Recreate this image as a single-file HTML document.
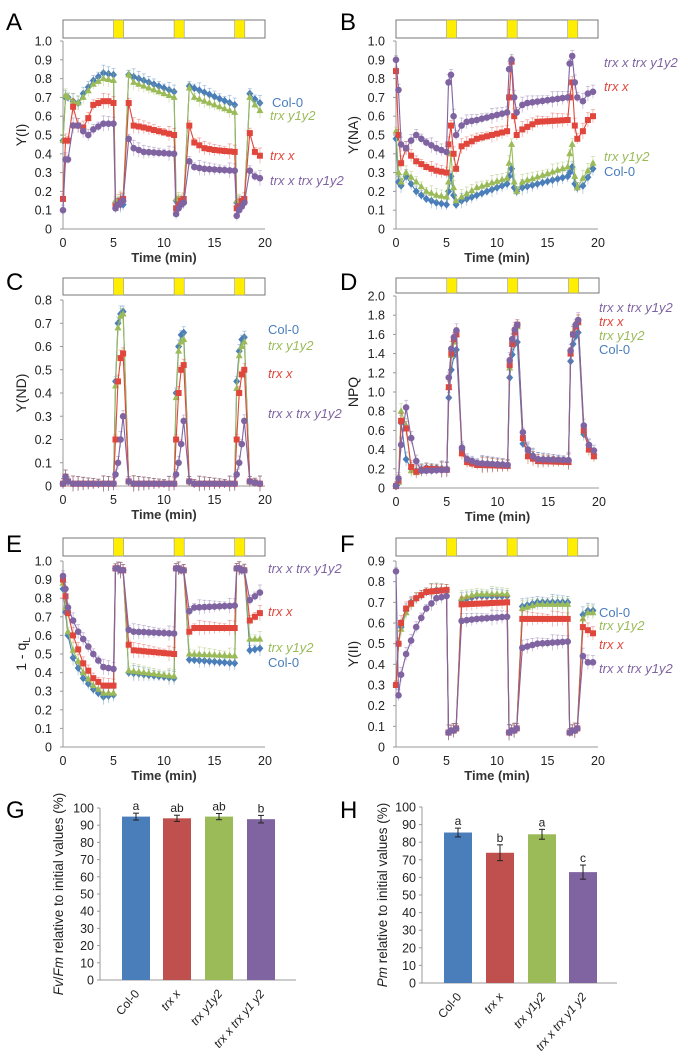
<!DOCTYPE html>
<html><head><meta charset="utf-8">
<style>
html,body{margin:0;padding:0;background:#fff;}
svg{display:block;font-family:"Liberation Sans",sans-serif;}
</style></head>
<body>
<svg id="s" width="688" height="1062" xmlns="http://www.w3.org/2000/svg"></svg>
<script>
var S=document.getElementById('s');var out='';
var COL={b:'#4a7ebb',g:'#9bbb59',r:'#e0463c',p:'#8064a2'};
var T=[0,.25,.5,1,1.5,2,2.5,3,3.5,4,4.5,5];
function hlT(t0){return [t0+.2,t0+.45,t0+.7,t0+.95];}
hlT(5).forEach(function(t){T.push(t)});
for(var t=6.5;t<=11.001;t+=.5)T.push(t);
hlT(11).forEach(function(t){T.push(t)});
for(var t=12.5;t<=17.001;t+=.5)T.push(t);
hlT(17).forEach(function(t){T.push(t)});
T.push(18.5,19,19.5);
function H(t0,a){return hlT(t0).map(function(t,i){return [t,a[i]]});}
function mk(init,h1,s2,h2,s3,h3,s4){return [].concat(init,H(5,h1),s2,H(11,h2),s3,H(17,h3),s4);}
function interp(an,t){for(var i=0;i<an.length-1;i++){if(t>=an[i][0]-1e-9&&t<=an[i+1][0]+1e-9){var a=an[i],b=an[i+1];if(b[0]==a[0])return a[1];return a[1]+(b[1]-a[1])*(t-a[0])/(b[0]-a[0]);}}return t<an[0][0]?an[0][1]:an[an.length-1][1];}
function marker(k,x,y){var c=COL[k];
 if(k=='b')return '<polygon points="'+x+','+(y-4)+' '+(x+3.5)+','+y+' '+x+','+(y+4)+' '+(x-3.5)+','+y+'" fill="'+c+'"/>';
 if(k=='r')return '<rect x="'+(x-3)+'" y="'+(y-3)+'" width="6" height="6" fill="'+c+'"/>';
 if(k=='g')return '<polygon points="'+x+','+(y-4)+' '+(x+3.5)+','+(y+2.5)+' '+(x-3.5)+','+(y+2.5)+'" fill="'+c+'"/>';
 return '<circle cx="'+x+'" cy="'+y+'" r="3.3" fill="'+c+'"/>';}
function panel(c){
 var X=function(t){return c.x0+(c.x1-c.x0)*t/20},Y=function(v){return c.yB-(c.yB-c.yT)*v/c.ymax};
 var o='';
 o+='<rect x="'+c.x0+'" y="'+c.b0+'" width="'+(c.x1-c.x0)+'" height="'+(c.b1-c.b0)+'" fill="#fff" stroke="#777" stroke-width="1"/>';
 [5,11,17].forEach(function(t){o+='<rect x="'+X(t)+'" y="'+c.b0+'" width="'+(X(t+1)-X(t))+'" height="'+(c.b1-c.b0)+'" fill="#ffee00" stroke="#999" stroke-width=".6"/>';});
 o+='<line x1="'+c.x0+'" y1="'+c.yT+'" x2="'+c.x0+'" y2="'+c.yB+'" stroke="#999"/>';
 o+='<line x1="'+c.x0+'" y1="'+c.yB+'" x2="'+c.x1+'" y2="'+c.yB+'" stroke="#999"/>';
 var n=Math.round(c.ymax/c.step);
 for(var i=0;i<=n;i++){var v=i*c.step,y=Y(v);o+='<text x="'+(c.x0-11)+'" y="'+(y+4.5)+'" font-size="12.5" text-anchor="end" fill="#222">'+(i==0?'0':v.toFixed(1))+'</text>';o+='<line x1="'+(c.x0-3)+'" y1="'+y+'" x2="'+c.x0+'" y2="'+y+'" stroke="#999"/>';}
 [0,5,10,15,20].forEach(function(t){o+='<text x="'+X(t)+'" y="'+(c.yB+18)+'" font-size="12.5" text-anchor="middle" fill="#222">'+t+'</text>';});
 o+='<text x="'+((c.x0+c.x1)/2)+'" y="'+(c.yB+33)+'" font-size="13" font-weight="bold" text-anchor="middle" fill="#333">Time (min)</text>';
 o+='<text transform="translate('+c.lx+','+((c.yT+c.yB)/2)+') rotate(-90)" font-size="14" text-anchor="middle" fill="#222">'+c.yl+'</text>';
 ['b','g','r','p'].forEach(function(k){var an=c.s[k];var pts=T.map(function(t){return [X(t),Y(interp(an,t))]});
  var eb='',m='';pts.forEach(function(p){var e=4+((p[0]*7)%4);eb+='<line x1="'+p[0]+'" y1="'+(p[1]-e)+'" x2="'+p[0]+'" y2="'+(p[1]+e)+'" stroke="'+COL[k]+'" stroke-opacity=".45" stroke-width=".8"/><line x1="'+(p[0]-2)+'" y1="'+(p[1]-e)+'" x2="'+(p[0]+2)+'" y2="'+(p[1]-e)+'" stroke="'+COL[k]+'" stroke-opacity=".45" stroke-width=".8"/>';m+=marker(k,p[0].toFixed(1)*1,p[1].toFixed(1)*1);});
  o+=eb+'<polyline fill="none" stroke="'+COL[k]+'" stroke-width="1.1" points="'+pts.map(function(p){return p[0].toFixed(1)+','+p[1].toFixed(1)}).join(' ')+'"/>'+m;});
 c.leg.forEach(function(l){var txt={b:'Col-0',g:'trx y1y2',r:'trx x',p:'trx x trx y1y2'}[l[0]];o+='<text x="'+l[1]+'" y="'+l[2]+'" font-size="13" fill="'+COL[l[0]]+'"'+(l[0]=='b'?'':' font-style="italic"')+'>'+txt+'</text>';});
 o+='<text x="'+c.L[1]+'" y="'+c.L[2]+'" font-size="24" fill="#000">'+c.L[0]+'</text>';
 return o;}
var hlE=[.96,.96,.95,.95],hlF=[.07,.08,.08,.09];
out+=panel({x0:63,x1:265,yB:229,yT:41,ymax:1,step:.1,b0:20,b1:38,lx:26,yl:'Y(I)',L:['A',6,30],
 s:{b:mk([[0,.47],[.25,.7],[.5,.7],[1,.68],[1.5,.67],[2,.72],[3,.79],[4,.83],[5,.82]],[.14,.13,.13,.13],[[6.5,.82],[11,.73]],[.15,.14,.14,.14],[[12.5,.76],[17,.66]],[.14,.14,.14,.14],[[18.5,.72],[19,.69],[19.5,.67]]),
 g:mk([[0,.47],[.25,.71],[.5,.7],[1,.68],[1.5,.67],[2,.7],[3,.77],[4,.8],[5,.79]],[.15,.15,.16,.16],[[6.5,.82],[7,.78],[11,.7]],[.16,.16,.16,.16],[[12.5,.75],[13,.7],[17,.62]],[.15,.15,.15,.16],[[18.5,.7],[19,.66],[19.5,.63]]),
 r:mk([[0,.16],[.25,.47],[.5,.47],[1,.65],[1.5,.55],[2,.54],[2.5,.59],[3,.66],[4,.68],[4.5,.68],[5,.67]],[.12,.13,.15,.16],[[6.5,.67],[7,.55],[8,.54],[11,.5]],[.11,.13,.15,.16],[[12.5,.55],[13,.46],[14,.43],[15,.42],[17,.41]],[.11,.12,.15,.16],[[18.5,.51],[19,.41],[19.5,.39]]),
 p:mk([[0,.1],[.25,.37],[.5,.37],[1,.55],[1.5,.55],[2,.52],[2.5,.5],[3,.53],[4,.56],[5,.56]],[.11,.13,.14,.15],[[6.5,.48],[7,.43],[8,.41],[11,.4]],[.08,.11,.13,.14],[[12.5,.36],[13,.33],[14,.32],[17,.31]],[.07,.1,.12,.14],[[18.5,.31],[19,.28],[19.5,.27]])},
 leg:[['b',272,107],['g',270,120],['r',270,160],['p',270,185]]});
out+=panel({x0:396,x1:598,yB:229,yT:41,ymax:1,step:.1,b0:20,b1:38,lx:358,yl:'Y(NA)',L:['B',340,30],
 s:{b:mk([[0,.48],[.25,.25],[.5,.23],[1,.28],[2,.2],[3,.16],[4,.14],[5,.13]],[.2,.28,.18,.13],[[6.5,.15],[8,.18],[11,.24]],[.28,.32,.22,.2],[[12.5,.22],[17,.28]],[.3,.33,.24,.22],[[18.5,.23],[19.5,.32]]),
 g:mk([[0,.52],[.25,.3],[.5,.25],[1,.3],[2,.25],[3,.2],[4,.18],[5,.17]],[.25,.4,.22,.15],[[6.5,.17],[8,.22],[11,.27]],[.35,.45,.25,.2],[[12.5,.25],[17,.33]],[.4,.45,.28,.22],[[18.5,.27],[19.5,.35]]),
 r:mk([[0,.84],[.25,.5],[.5,.35],[1,.43],[1.5,.39],[2,.36],[3,.33],[4,.31],[5,.3]],[.45,.55,.4,.32],[[6.5,.44],[8,.48],[11,.52]],[.7,.89,.6,.5],[[12.5,.53],[14,.57],[17,.58]],[.7,.78,.55,.48],[[18.5,.52],[19,.58],[19.5,.6]]),
 p:mk([[0,.9],[.25,.74],[.5,.45],[1,.43],[1.5,.47],[2,.5],[2.5,.48],[3,.46],[4,.43],[5,.41]],[.78,.82,.6,.5],[[6.5,.55],[7,.57],[8,.58],[11,.62]],[.85,.9,.7,.62],[[12.5,.66],[13,.67],[17,.7]],[.88,.92,.78,.7],[[18.5,.68],[19,.72],[19.5,.73]])},
 leg:[['p',604,67],['r',604,91],['g',604,161],['b',604,176]]});
function cb(h1,h2,h3){return mk([[0,.01],[.25,.04],[.5,.02],[1,.01],[5,.01]],h1,[[6.5,.02],[7,.01],[11,.01]],h2,[[12.5,.02],[13,.01],[17,.01]],h3,[[18.5,.02],[19.5,.01]]);}
out+=panel({x0:63,x1:265,yB:486,yT:300,ymax:.8,step:.1,b0:278,b1:295,lx:26,yl:'Y(ND)',L:['C',6,290],
 s:{b:cb([.45,.7,.74,.75],[.4,.6,.65,.66],[.45,.58,.63,.64]),g:cb([.43,.68,.73,.74],[.38,.58,.62,.63],[.42,.56,.6,.62]),r:cb([.2,.45,.55,.57],[.2,.4,.5,.52],[.2,.4,.48,.5]),p:cb([.05,.1,.2,.3],[.05,.1,.18,.28],[.05,.1,.18,.28])},
 leg:[['b',268,334],['g',268,350],['r',268,378],['p',268,418]]});
out+=panel({x0:396,x1:599,yB:488,yT:296,ymax:2,step:.2,b0:278,b1:293,lx:358,yl:'NPQ',L:['D',340,290],
 s:{b:mk([[0,.02],[.25,.05],[.5,.68],[1,.3],[1.5,.2],[2,.18],[3,.21],[5,.2]],[.94,1.23,1.38,1.44],[[6.5,.4],[7,.28],[8,.25],[11,.24]],[1.15,1.39,1.5,1.52],[[12.5,.46],[13,.38],[14,.3],[17,.28]],[1.32,1.5,1.58,1.62],[[18.5,.56],[19,.44],[19.5,.35]]),
 g:mk([[0,.02],[.25,.06],[.5,.8],[1,.65],[1.5,.18],[2,.16],[3,.2],[5,.19]],[1.05,1.38,1.52,1.6],[[6.5,.36],[7,.27],[8,.24],[11,.23]],[1.25,1.5,1.62,1.68],[[12.5,.52],[13,.33],[14,.28],[17,.27]],[1.4,1.62,1.68,1.72],[[18.5,.6],[19,.4],[19.5,.33]]),
 r:mk([[0,.02],[.25,.08],[.5,.7],[1,.62],[1.5,.22],[2,.17],[3,.2],[5,.19]],[1.05,1.4,1.55,1.6],[[6.5,.36],[7,.27],[8,.24],[11,.23]],[1.28,1.5,1.62,1.7],[[12.5,.52],[13,.33],[14,.28],[17,.27]],[1.4,1.6,1.68,1.73],[[18.5,.6],[19,.4],[19.5,.33]]),
 p:mk([[0,.02],[.25,.1],[.5,.45],[1,.84],[1.5,.52],[2,.28],[2.5,.18],[3,.18],[5,.19]],[1.15,1.45,1.57,1.64],[[6.5,.42],[7,.3],[8,.26],[11,.24]],[1.33,1.55,1.65,1.7],[[12.5,.58],[13,.4],[13.5,.33],[14,.3],[17,.29]],[1.43,1.6,1.7,1.75],[[18.5,.65],[19,.45],[19.5,.39]])},
 leg:[['p',599,312],['r',599,326],['g',599,340],['b',599,354]]});
out+=panel({x0:63,x1:265,yB:747,yT:561,ymax:1,step:.1,b0:538,b1:556,lx:26,yl:'1 - q<tspan font-size="10" dy="4">L</tspan>',L:['E',6,552],
 s:{b:mk([[0,.85],[.5,.6],[1,.48],[2,.37],[3,.31],[4,.27],[5,.28]],hlE,[[6.5,.4],[11,.37]],hlE,[[12.5,.47],[17,.45]],hlE,[[18.5,.52],[19.5,.53]]),
 g:mk([[0,.88],[.5,.62],[1,.52],[2,.4],[3,.33],[4,.29],[5,.29]],hlE,[[6.5,.41],[11,.38]],hlE,[[12.5,.5],[17,.49]],hlE,[[18.5,.58],[19.5,.58]]),
 r:mk([[0,.9],[.5,.72],[1,.6],[2,.45],[3,.37],[4,.33],[5,.33]],hlE,[[6.5,.55],[7,.52],[11,.5]],hlE,[[12.5,.62],[13,.64],[17,.64]],hlE,[[18.5,.68],[19.5,.72]]),
 p:mk([[0,.92],[.25,.85],[.5,.75],[1,.68],[1.5,.62],[2,.58],[3,.5],[4,.43],[5,.42]],hlE,[[6.5,.63],[7,.62],[11,.61]],hlE,[[12.5,.73],[13,.75],[17,.76]],hlE,[[18.5,.79],[19,.81],[19.5,.83]])},
 leg:[['p',268,573],['r',268,616],['g',268,652],['b',268,667]]});
out+=panel({x0:396,x1:598,yB:747,yT:561,ymax:.9,step:.1,b0:538,b1:556,lx:358,yl:'Y(II)',L:['F',340,552],
 s:{b:mk([[0,.3],[.25,.5],[.5,.58],[1,.66],[1.5,.7],[2,.72],[3,.75],[4,.76],[5,.76]],hlF,[[6.5,.71],[8,.73],[11,.73]],hlF,[[12.5,.68],[14,.7],[17,.7]],hlF,[[18.5,.64],[19,.66],[19.5,.66]]),
 g:mk([[0,.3],[.25,.5],[.5,.57],[1,.65],[1.5,.69],[2,.72],[3,.75],[4,.76],[5,.76]],hlF,[[6.5,.72],[8,.74],[11,.74]],hlF,[[12.5,.67],[14,.69],[17,.69]],hlF,[[18.5,.62],[19,.65],[19.5,.65]]),
 r:mk([[0,.3],[.25,.5],[.5,.6],[1,.67],[2,.72],[3,.75],[5,.76]],hlF,[[6.5,.69],[11,.7]],hlF,[[12.5,.62],[17,.62]],hlF,[[18.5,.58],[19.5,.55]]),
 p:mk([[0,.85],[.25,.25],[.5,.35],[1,.45],[2,.58],[3,.67],[4,.72],[5,.73]],hlF,[[6.5,.61],[8,.62],[11,.63]],hlF,[[12.5,.48],[14,.5],[17,.51]],hlF,[[18.5,.44],[19,.41],[19.5,.41]])},
 leg:[['b',599,617],['g',599,630],['r',599,649],['p',599,673]]});
function bars(c){var o='';var Y=function(v){return c.yB-(c.yB-c.yT)*v/100};
 o+='<line x1="'+c.ax0+'" y1="'+c.yT+'" x2="'+c.ax0+'" y2="'+c.yB+'" stroke="#999"/><line x1="'+c.ax0+'" y1="'+c.yB+'" x2="'+c.ax1+'" y2="'+c.yB+'" stroke="#999"/>';
 for(var v=0;v<=100;v+=10){var y=Y(v);o+='<text x="'+(c.ax0-6)+'" y="'+(y+4.5)+'" font-size="12.5" text-anchor="end" fill="#222">'+v+'</text><line x1="'+(c.ax0-3)+'" y1="'+y+'" x2="'+c.ax0+'" y2="'+y+'" stroke="#999"/>';}
 var cols=[COL.b,'#c0504d',COL.g,COL.p];var names=['Col-0','<tspan font-style="italic">trx x</tspan>','<tspan font-style="italic">trx y1y2</tspan>','<tspan font-style="italic">trx x trx y1 y2</tspan>'];
 c.b.forEach(function(b,i){var x=c.bx[i],y=Y(b[0]);o+='<rect x="'+x+'" y="'+y+'" width="28" height="'+(c.yB-y)+'" fill="'+cols[i]+'"/>';var cx=x+14;var e1=Y(b[0]+b[1]),e2=Y(b[0]-b[1]);
  o+='<line x1="'+cx+'" y1="'+e1+'" x2="'+cx+'" y2="'+e2+'" stroke="#222"/><line x1="'+(cx-3)+'" y1="'+e1+'" x2="'+(cx+3)+'" y2="'+e1+'" stroke="#222"/><line x1="'+(cx-3)+'" y1="'+e2+'" x2="'+(cx+3)+'" y2="'+e2+'" stroke="#222"/>';
  o+='<text x="'+cx+'" y="'+(e1-3)+'" font-size="12" text-anchor="middle" fill="#222">'+b[2]+'</text>';
  o+='<text transform="translate('+(cx+4)+','+(c.yB+14)+') rotate(-50)" font-size="12" text-anchor="end" fill="#222">'+names[i]+'</text>';});
 o+='<text transform="translate('+c.lx+','+((c.yT+c.yB)/2)+') rotate(-90)" font-size="13.5" text-anchor="middle" fill="#222">'+c.yl+'</text>';
 o+='<text x="'+c.L[1]+'" y="'+c.L[2]+'" font-size="24" fill="#000">'+c.L[0]+'</text>';return o;}
out+=bars({ax0:100,ax1:296,yT:808,yB:980,lx:63,bx:[122,163,205,247],b:[[95,2,'a'],[94,1.8,'ab'],[95,1.8,'ab'],[93.5,2.2,'b']],yl:'<tspan font-style="italic">Fv</tspan>/<tspan font-style="italic">Fm</tspan> relative to initial values (%)',L:['G',6,818]});
out+=bars({ax0:422,ax1:617,yT:807,yB:983,lx:387,bx:[444,486,528,569],b:[[85.5,2.5,'a'],[74,4.5,'b'],[84.5,2.8,'a'],[63,4,'c']],yl:'<tspan font-style="italic">Pm</tspan> relative to initial values (%)',L:['H',340,818]});
S.innerHTML=out;
</script>
</body></html>
